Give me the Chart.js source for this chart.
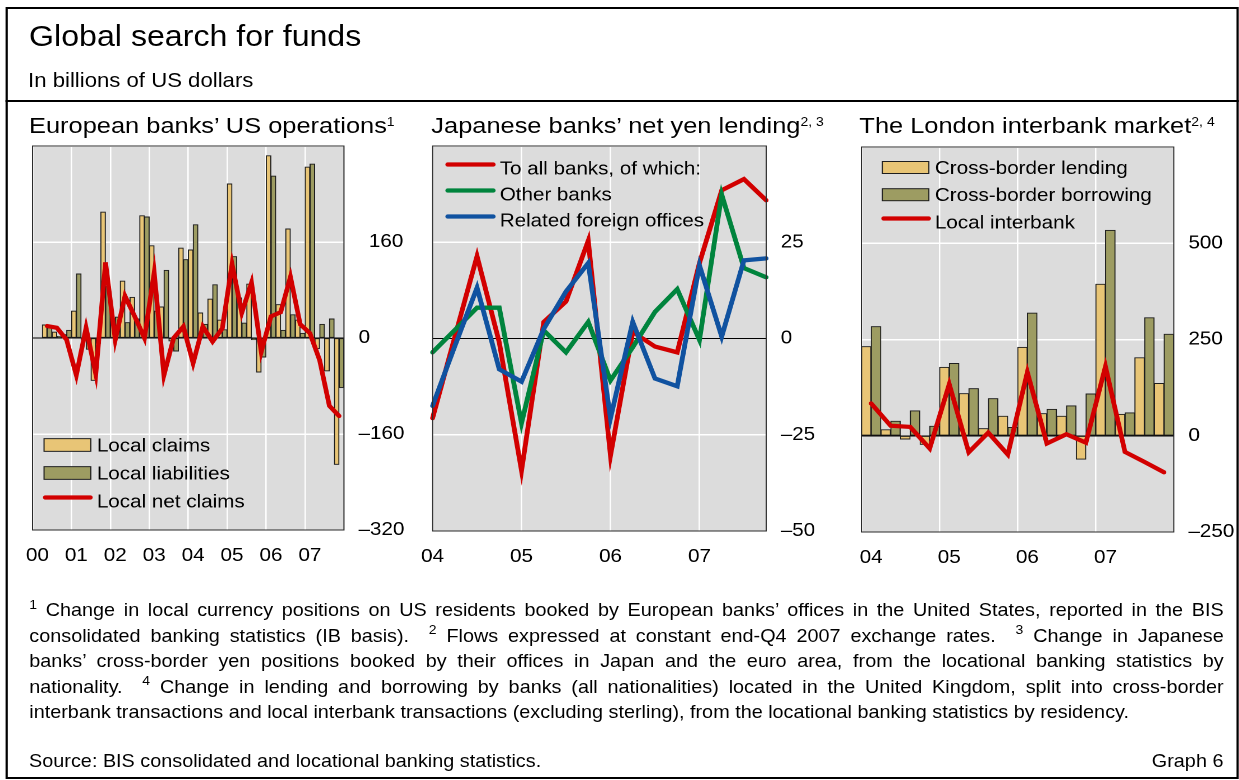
<!DOCTYPE html>
<html>
<head>
<meta charset="utf-8">
<script src="https://cdn.jsdelivr.net/npm/chart.js@4.4.1/dist/chart.umd.min.js"></script>
<style>
html,body{margin:0;padding:0;background:#fff;}
body{width:1239px;height:780px;overflow:hidden;position:relative;}
#stage{position:absolute;left:0;top:0;width:1106.25px;height:780px;transform:scaleX(1.12);transform-origin:0 0;font-family:"Liberation Sans",Arial,Helvetica,sans-serif;color:#000;}
.t{position:absolute;white-space:nowrap;line-height:1;}
.sup{position:relative;font-size:12.5px;top:-7.5px;}
.fs{position:relative;font-size:12.5px;top:-7.7px;}
.fn{position:absolute;left:26.2px;width:1066.4px;font-size:17.7px;line-height:1;text-align:justify;text-align-last:justify;}
.cw{position:absolute;}
#frame{position:absolute;left:4.5px;top:6.7px;width:1101.5px;height:772.3px;border:2px solid #000;box-sizing:border-box;}
#sep{position:absolute;left:4.5px;top:99.5px;width:1101.5px;height:2.2px;background:#000;}
</style>
</head>
<body>
<div id="stage">
  <div id="frame"></div>
  <div id="sep"></div>
  <div class="t" style="left:26px;top:22.4px;font-size:28.7px;">Global search for funds</div>
  <div class="t" style="left:25px;top:70.5px;font-size:19.8px;">In billions of US dollars</div>

  <div class="t" style="left:25.9px;top:114.1px;font-size:22.7px;">European banks’ US operations<span class="sup">1</span></div>
  <div class="t" style="left:385.1px;top:114.1px;font-size:22.7px;">Japanese banks’ net yen lending<span class="sup">2, 3</span></div>
  <div class="t" style="left:767.3px;top:114.1px;font-size:22.7px;">The London interbank market<span class="sup">2, 4</span></div>

  <div class="cw" id="w1"><canvas id="c1"></canvas></div>
  <div class="cw" id="w2"><canvas id="c2"></canvas></div>
  <div class="cw" id="w3"><canvas id="c3"></canvas></div>

  <div class="fn" style="top:602.4px;"><span class="fs">1</span> Change in local currency positions on US residents booked by European banks’ offices in the United States, reported in the BIS</div>
  <div class="fn" style="top:627.9px;">consolidated banking statistics (IB basis).&nbsp; <span class="fs">2</span> Flows expressed at constant end-Q4 2007 exchange rates.&nbsp; <span class="fs">3</span> Change in Japanese</div>
  <div class="fn" style="top:653.4px;">banks’ cross-border yen positions booked by their offices in Japan and the euro area, from the locational banking statistics by</div>
  <div class="fn" style="top:678.9px;">nationality.&nbsp; <span class="fs">4</span> Change in lending and borrowing by banks (all nationalities) located in the United Kingdom, split into cross-border</div>
  <div class="fn" style="top:704.4px;text-align:left;text-align-last:left;">interbank transactions and local interbank transactions (excluding sterling), from the locational banking statistics by residency.</div>

  <div class="t" style="left:26px;top:752.9px;font-size:17.7px;">Source: BIS consolidated and locational banking statistics.</div>
  <div class="t" style="right:13.9px;top:752.9px;font-size:17.7px;">Graph 6</div>
</div>

<script>
// ---------------- DATA ----------------
// Panel 1: European banks' US operations, quarterly 2000 Q1 - 2007 Q4
const years1 = ['2000','2001','2002','2003','2004','2005','2006','2007'];
const yearTicks1 = ['00','01','02','03','04','05','06','07'];
const localClaims = [null, 22, 10, 6, 45, -3, -71, 210, 30, 95, 68, 204, 154, 52, -5, 150,
                     147, 42, 65, 30, 257, 67, 90, -57, 304, 56, 182, 30, 285, -18, -55, -211];
const localLiabilities = [null, 17, 3, 13, 107, -19, -9, 86, 35, 26, 32, 202, 45, 113, -22, 131,
                          189, 23, 89, 14, 136, 25, -3, -32, 270, 13, 39, 8, 290, 23, 32, -83];
const localNetClaims = [null, 20, 17, -3, -62, 17, -60, 126, -3, 70, 36, 0, 109, -62, 0, 19,
                        -42, 19, -6, 16, 123, 42, 92, -23, 36, 43, 102, 23, 8, -37, -113, -130];

// Panel 2: Japanese banks' net yen lending, quarterly 2004 Q1 - 2007 Q4
const years2 = ['2004','2005','2006','2007'];
const yearTicks2 = ['04','05','06','07'];
const toAllBanks = [-20.7, 0.4, 21.4, -1, -34.3, 4.3, 9.6, 25.4, -30.4, 1.7, -2.1, -3.6, 19.6, 38.5, 41.4, 35.9];
const otherBanks = [-3.6, 2.2, 8.0, 8.0, -22, 2.1, -3.6, 4.3, -10.9, -2.3, 6.9, 12.8, -0.4, 37.4, 18.3, 15.9];
const relatedOffices = [-17.5, -2, 13.2, -8, -11.2, 2.5, 12.2, 19.6, -20.7, 4.3, -10.4, -12.4, 19, 0.5, 20.3, 20.8];

// Panel 3: The London interbank market, quarterly 2004 Q1 - 2007 Q4
const years3 = ['2004','2005','2006','2007'];
const yearTicks3 = ['04','05','06','07'];
const crossBorderLending = [232, 16, -9, -23, 178, 110, 19, 51, 230, 58, 51, -61, 394, 56, 203, 136];
const crossBorderBorrowing = [284, 38, 65, 25, 188, 123, 97, 22, 319, 69, 78, 109, 534, 60, 307, 264];
const localInterbank = [84, 26, 23, -33, 134, -43, 8, -49, 165, -20, 4, -18, 180, -42, -68, -95];

// ---------------- STYLE ----------------
const S = 1.12;
const YEL = '#E8C576', OLV = '#9D9C62', RED = '#D20000', GRN = '#00843D', BLU = '#1052A0';
const BAR_EDGE = '#1e1e1e';
const FONT = '"Liberation Sans", Arial, Helvetica, sans-serif';
Chart.defaults.font.family = FONT;
Chart.defaults.font.size = 18.4;
Chart.defaults.color = '#000';

const quarters = ys => ys.flatMap(y => ['Q1','Q2','Q3','Q4'].map(q => y + ' ' + q));

function place(id, P) {
  const el = document.getElementById(id);
  const padL = 24, topC = 116, hC = 474, yW = 70, xH = 44;
  el.style.left = (P.L / S - padL) + 'px';
  el.style.top = topC + 'px';
  el.style.width = ((P.R - P.L) / S + padL + yW) + 'px';
  el.style.height = hC + 'px';
  return {padding: {left: padL, top: P.T - topC, right: 0, bottom: hC - (P.B - topC) - xH}, yW, xH};
}

const deco = {
  id: 'deco',
  beforeDraw(chart) {
    const {ctx, chartArea: a} = chart;
    ctx.save();
    ctx.fillStyle = '#dcdcdc';
    ctx.fillRect(a.left, a.top, a.right - a.left, a.bottom - a.top);
    ctx.restore();
  },
  afterDraw(chart, args, o) {
    const {ctx, chartArea: a} = chart;
    ctx.save();
    ctx.strokeStyle = '#2a2a2a';
    ctx.lineWidth = 1;
    ctx.strokeRect(a.left, a.top, a.right - a.left, a.bottom - a.top);
    ctx.font = '18.4px ' + FONT;
    ctx.textBaseline = 'alphabetic';
    chart.data.datasets.forEach((ds, i) => {
      const cy = o.anchor === 'bottom' ? a.bottom - o.rows[i] : a.top + o.rows[i];
      if ((ds.type || chart.config.type) === 'bar') {
        const x0 = a.left + o.sx / S, w = o.sw / S;
        ctx.fillStyle = ds.backgroundColor;
        ctx.fillRect(x0, cy - o.rh / 2, w, o.rh);
        ctx.strokeStyle = BAR_EDGE; ctx.lineWidth = 1;
        ctx.strokeRect(x0, cy - o.rh / 2, w, o.rh);
      } else {
        const x0 = a.left + o.lx / S, w = o.lw / S;
        ctx.strokeStyle = ds.borderColor; ctx.lineWidth = ds.borderWidth; ctx.lineCap = 'round';
        ctx.beginPath();
        ctx.moveTo(x0 + 2, cy - 3.5); ctx.lineTo(x0 + w - 2, cy - 3.5);
        ctx.stroke();
      }
      ctx.fillStyle = '#000';
      ctx.fillText(ds.label, a.left + o.tx / S, cy + 6.5);
    });
    ctx.restore();
  }
};

function axes(g, yMin, yMax, yStep, tickLabels, isBar, posPad) {
  return {
    x: {
      offset: isBar,
      grid: {offset: isBar, drawTicks: false, lineWidth: 1.3,
             color: c => (c.index % 4 === 0) ? '#ffffff' : 'rgba(0,0,0,0)'},
      border: {display: false},
      ticks: {autoSkip: false, maxRotation: 0, minRotation: 0, padding: 15, color: '#000',
              font: {size: 18.4},
              callback: (v, i) => (i % 4 === 0) ? tickLabels[i / 4] : ''},
      afterFit: s => { s.height = g.xH; }
    },
    y: {
      position: 'right', min: yMin, max: yMax,
      grid: {drawTicks: false,
             color: c => (c.tick && c.tick.value === 0) ? '#000000' : '#ffffff',
             lineWidth: c => (c.tick && c.tick.value === 0) ? 1 : 1.5},
      border: {display: false},
      ticks: {stepSize: yStep, padding: 13, color: '#000', font: {size: 18.4},
              callback: v => v >= yMax ? '' : (v < 0 ? '\u2013' + Math.abs(v) : (v > 0 && posPad ? '\u2002' + v : String(v)))},
      afterFit: s => { s.width = g.yW; }
    }
  };
}

const common = {responsive: true, maintainAspectRatio: false, animation: false, devicePixelRatio: 2,
                events: []};

// Panel 1
const g1 = place('w1', {L: 32.5, R: 343.5, T: 146, B: 530});
new Chart(document.getElementById('c1'), {
  type: 'bar',
  data: {
    labels: quarters(years1),
    datasets: [
      {type: 'bar', label: 'Local claims', data: localClaims, backgroundColor: YEL, borderColor: BAR_EDGE,
       borderWidth: 1, borderSkipped: false, categoryPercentage: 1, barPercentage: 1, order: 1},
      {type: 'bar', label: 'Local liabilities', data: localLiabilities, backgroundColor: OLV, borderColor: BAR_EDGE,
       borderWidth: 1, borderSkipped: false, categoryPercentage: 1, barPercentage: 1, order: 1},
      {type: 'line', label: 'Local net claims', data: localNetClaims, borderColor: RED, borderWidth: 4.2,
       pointRadius: 0, tension: 0, borderCapStyle: 'round', order: 0}
    ]
  },
  options: Object.assign({}, common, {
    layout: {padding: g1.padding},
    scales: axes(g1, -320, 320, 160, yearTicks1, true, true),
    plugins: {legend: {display: false}, tooltip: {enabled: false},
              deco: {anchor: 'bottom', rows: [85, 57, 29], sx: 11.5, sw: 46.7, rh: 12.7, lx: 10.5, lw: 49.5, tx: 64.2}}
  }),
  plugins: [deco]
});

// Panel 2
const g2 = place('w2', {L: 431, R: 766.5, T: 146, B: 531});
new Chart(document.getElementById('c2'), {
  type: 'line',
  data: {
    labels: quarters(years2),
    datasets: [
      {label: 'To all banks, of which:', data: toAllBanks, borderColor: RED, borderWidth: 4.3,
       pointRadius: 0, tension: 0, borderCapStyle: 'round', order: 3},
      {label: 'Other banks', data: otherBanks, borderColor: GRN, borderWidth: 4.3,
       pointRadius: 0, tension: 0, borderCapStyle: 'round', order: 2},
      {label: 'Related foreign offices', data: relatedOffices, borderColor: BLU, borderWidth: 4.3,
       pointRadius: 0, tension: 0, borderCapStyle: 'round', order: 1}
    ]
  },
  options: Object.assign({}, common, {
    layout: {padding: g2.padding},
    scales: axes(g2, -50, 50, 25, yearTicks2, false, false),
    plugins: {legend: {display: false}, tooltip: {enabled: false},
              deco: {anchor: 'top', rows: [22, 48, 74], lx: 13, lw: 50, tx: 67.3}}
  }),
  plugins: [deco]
});

// Panel 3
const g3 = place('w3', {L: 861.7, R: 1173.3, T: 147, B: 532});
new Chart(document.getElementById('c3'), {
  type: 'bar',
  data: {
    labels: quarters(years3),
    datasets: [
      {type: 'bar', label: 'Cross-border lending', data: crossBorderLending, backgroundColor: YEL, borderColor: BAR_EDGE,
       borderWidth: 1, borderSkipped: false, categoryPercentage: 1, barPercentage: 1, order: 1},
      {type: 'bar', label: 'Cross-border borrowing', data: crossBorderBorrowing, backgroundColor: OLV, borderColor: BAR_EDGE,
       borderWidth: 1, borderSkipped: false, categoryPercentage: 1, barPercentage: 1, order: 1},
      {type: 'line', label: 'Local interbank', data: localInterbank, borderColor: RED, borderWidth: 4.2,
       pointRadius: 0, tension: 0, borderCapStyle: 'round', order: 0}
    ]
  },
  options: Object.assign({}, common, {
    layout: {padding: g3.padding},
    scales: axes(g3, -250, 750, 250, yearTicks3, true, false),
    plugins: {legend: {display: false}, tooltip: {enabled: false},
              deco: {anchor: 'top', rows: [20.5, 47.7, 75], sx: 21, sw: 46.3, rh: 12, lx: 20, lw: 49.3, tx: 73.3}}
  }),
  plugins: [deco]
});
</script>
</body>
</html>
